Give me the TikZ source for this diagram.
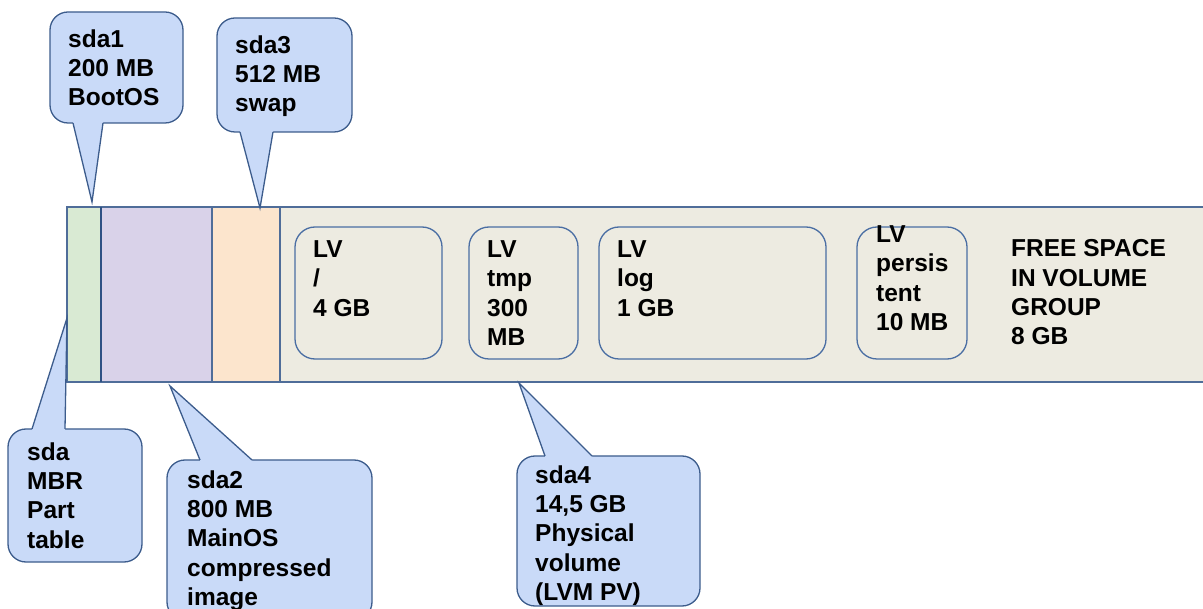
\documentclass[tikz,border=0pt]{standalone}
\usepackage{fontspec}
\setmainfont{Liberation Sans}
\definecolor{callfill}{HTML}{C9DAF8}
\definecolor{callline}{HTML}{3C5C8C}
\definecolor{segGreen}{HTML}{D9EAD3}
\definecolor{segPurple}{HTML}{D9D2E9}
\definecolor{segOrange}{HTML}{FCE5CD}
\definecolor{segBeige}{HTML}{EDEBE1}
\definecolor{barline}{HTML}{4F6D99}
\definecolor{divline}{HTML}{2E5184}
\definecolor{lvline}{HTML}{4A6EA3}
\newcommand\lblfont{\bfseries\fontsize{24.5}{29.3}\selectfont}
\begin{document}
\begin{tikzpicture}[x=1pt,y=-1pt,
  seg/.style={draw=barline, line width=1.3pt, inner sep=0pt, outer sep=0pt,
    anchor=north west, minimum height=175pt},
  callout/.style={draw=callline, fill=callfill, line width=1.3pt,
    rounded corners=18pt, inner sep=0pt, outer sep=0pt, anchor=north west},
  pointerfill/.style={fill=callfill},
  pointerline/.style={draw=callline, line width=1.3pt, line join=miter},
  lvbox/.style={draw=lvline, line width=1.3pt, rounded corners=20pt,
    inner sep=0pt, outer sep=0pt, anchor=north west, minimum height=132pt},
  lbl/.style={align=left, anchor=north west, inner sep=0pt, font=\lblfont}]
\useasboundingbox (0,0) rectangle (1203,609);
\clip (0,0) rectangle (1203,609);

% disk bar: partitions side by side
\node[seg, fill=segGreen,  minimum width=34pt]  (mbr)  at (67,207)  {};
\node[seg, fill=segPurple, minimum width=111pt] (main) at (101,207) {};
\node[seg, fill=segOrange, minimum width=68pt]  (swap) at (212,207) {};
\node[seg, fill=segBeige,  minimum width=935pt] (pv)   at (280,207) {};
\draw[divline, line width=2.6pt] (mbr.north east) -- (mbr.south east);

% logical volumes inside the physical volume
\node[lvbox, minimum width=147pt] (lvroot) at (295,227) {};
\node[lvbox, minimum width=109pt] (lvtmp)  at (469,227) {};
\node[lvbox, minimum width=227pt] (lvlog)  at (599,227) {};
\node[lvbox, minimum width=110pt] (lvpers) at (857,227) {};
\node[lbl] (troot) at (313,240.4) {LV\\/\\4 GB};
\node[lbl] (ttmp)  at (487,240.4) {LV\\tmp\\300\\MB};
\node[lbl] (tlog)  at (617,240.4) {LV\\log\\1 GB};
\node[lbl] (tpers) at (876,225.4) {LV\\persis\\tent\\10 MB};
\node[lbl] (tfree) at (1011,239.4) {FREE SPACE\\IN VOLUME\\GROUP\\8 GB};

% pointer tips on the bar
\coordinate (tip1) at (92,202);
\coordinate (tip3) at (260,208);
\coordinate (tip0) at (67,318);
\coordinate (tip2) at (170,386);
\coordinate (tip4) at (519,383);

% callout sda1
\node[callout, minimum width=133pt, minimum height=111pt] (c1) at (50,12) {};
\fill[pointerfill] (73,120) -- (73,123) -- (tip1) -- (103,123) -- (103,120) -- cycle;
\draw[pointerline] (73,123) -- (tip1) -- (103,123);
\node[lbl] (t1) at (68,29.4) {sda1\\200 MB\\BootOS};

% callout sda3
\node[callout, minimum width=135pt, minimum height=114pt] (c3) at (217,18) {};
\fill[pointerfill] (240,129) -- (240,132) -- (tip3) -- (273,132) -- (273,129) -- cycle;
\draw[pointerline] (240,132) -- (tip3) -- (273,132);
\node[lbl] (t3) at (235,35.4) {sda3\\512 MB\\swap};

% callout sda
\node[callout, minimum width=134pt, minimum height=133pt] (c0) at (8,429) {};
\fill[pointerfill] (32,432) -- (32,429) -- (tip0) -- (65,429) -- (65,432) -- cycle;
\draw[pointerline] (32,429) -- (tip0) -- (65,429);
\node[lbl] (t0) at (27,442.4) {sda\\MBR\\Part\\table};

% callout sda2
\node[callout, minimum width=205pt, minimum height=160pt] (c2) at (167,460) {};
\fill[pointerfill] (200,463) -- (200,460) -- (tip2) -- (252,460) -- (252,463) -- cycle;
\draw[pointerline] (200,460) -- (tip2) -- (252,460);
\node[lbl] (t2) at (187,470.4) {sda2\\800 MB\\MainOS\\compressed\\image};

% callout sda4
\node[callout, minimum width=183pt, minimum height=150pt] (c4) at (517,456) {};
\fill[pointerfill] (545,459) -- (545,456) -- (tip4) -- (592,456) -- (592,459) -- cycle;
\draw[pointerline] (545,456) -- (tip4) -- (592,456);
\node[lbl] (t4) at (535,465.4) {sda4\\14,5 GB\\Physical\\volume\\(LVM PV)};
\end{tikzpicture}
\end{document}
